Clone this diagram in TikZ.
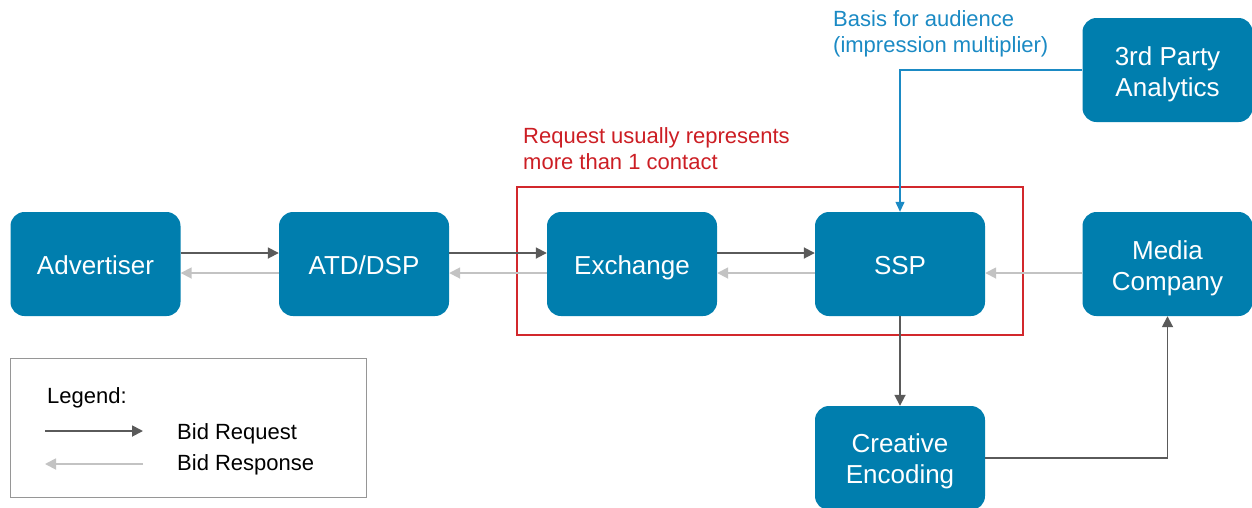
\documentclass[tikz,border=0pt]{standalone}
\usepackage{fontspec}
\setmainfont{Liberation Sans}
\usetikzlibrary{arrows.meta}
\definecolor{boxblue}{RGB}{0,126,174}
\definecolor{noteblue}{RGB}{27,138,196}
\definecolor{notered}{RGB}{204,30,36}
\definecolor{boxred}{RGB}{210,40,44}
\definecolor{darkarr}{RGB}{90,90,90}
\definecolor{lightarr}{RGB}{195,195,195}
\definecolor{legendgray}{RGB}{150,150,150}
\tikzset{
  party/.style={fill=boxblue, draw=none, rounded corners=14pt, minimum width=170pt, minimum height=104pt, inner sep=0pt},
  partytext/.style={text=white, font=\fontsize{26}{31}\selectfont, align=center, inner sep=0pt},
  oneline/.style={text height=0.72em, text depth=0.21em},
  req/.style={draw=darkarr, line width=1.8pt, -{Triangle[length=11pt,width=11pt]}},
  resp/.style={draw=lightarr, line width=1.8pt, -{Triangle[length=11pt,width=11pt]}},
  info/.style={draw=noteblue, line width=1.2pt, -{Triangle[length=10pt,width=9pt]}},
  notetext/.style={font=\fontsize{22}{26}\selectfont, align=left, inner sep=0pt, anchor=north west},
  legtext/.style={font=\fontsize{22}{26}\selectfont, inner sep=0pt, anchor=base west, text=black}
}
\begin{document}
\begin{tikzpicture}[x=1pt, y=-1pt]
\useasboundingbox (0,0) rectangle (1252,507);
% boxes
\node[party] (adv) at (95.5,264) {};
\node[party] (dsp) at (364,264) {};
\node[party] (exc) at (632,264) {};
\node[party] (ssp) at (900,264) {};
\node[party] (med) at (1167.5,264) {};
\node[party] (tpa) at (1167.5,70) {};
\node[party] (cre) at (900,458) {};
\node[partytext, oneline] (advt) at ([yshift=-8pt]adv.center) {Advertiser};
\node[partytext, oneline] (dspt) at ([yshift=-8pt]dsp.center) {ATD/DSP};
\node[partytext, oneline] (exct) at ([yshift=-8pt]exc.center) {Exchange};
\node[partytext, oneline] (sspt) at ([yshift=-8pt]ssp.center) {SSP};
\node[partytext] (medt) at ([yshift=-4pt]med.center) {Media\\Company};
\node[partytext] (tpat) at ([yshift=-4pt]tpa.center) {3rd Party\\Analytics};
\node[partytext] (cret) at ([yshift=-3.5pt]cre.center) {Creative\\Encoding};
% red grouping box
\draw[boxred, line width=1.8pt] (517,187) rectangle (1023,335);
\node[notetext, text=notered] (reqnote) at (523,127) {Request usually represents\\more than 1 contact};
\node[notetext, text=noteblue] (basisnote) at (833,10) {Basis for audience\\(impression multiplier)};
% bid requests
\draw[req] ([yshift=11pt]adv.east) -- ([yshift=11pt]dsp.west);
\draw[req] ([yshift=11pt]dsp.east) -- ([yshift=11pt]exc.west);
\draw[req] ([yshift=11pt]exc.east) -- ([yshift=11pt]ssp.west);
% bid responses
\draw[resp] ([yshift=-9pt]dsp.west) -- ([yshift=-9pt]adv.east);
\draw[resp] ([yshift=-9pt]exc.west) -- ([yshift=-9pt]dsp.east);
\draw[resp] ([yshift=-9pt]ssp.west) -- ([yshift=-9pt]exc.east);
\draw[resp] ([yshift=-9pt]med.west) -- ([yshift=-9pt]ssp.east);
% analytics
\draw[info] (tpa.west) -| (ssp.north);
% creative
\draw[req] (ssp.south) -- (cre.north);
\draw[req] (cre.east) -| (med.south);
% legend
\draw[legendgray, line width=1pt] (10,358) rectangle (366,497);
\node[legtext] (legtitle) at (47,403) {Legend:};
\coordinate (l1a) at (45,431);
\coordinate (l1b) at (143,431);
\coordinate (l2a) at (45,464);
\coordinate (l2b) at (143,464);
\draw[req] (l1a) -- (l1b);
\draw[resp] (l2b) -- (l2a);
\node[legtext] (legreq) at (177,439) {Bid Request};
\node[legtext] (legresp) at (177,470) {Bid Response};
\end{tikzpicture}
\end{document}
